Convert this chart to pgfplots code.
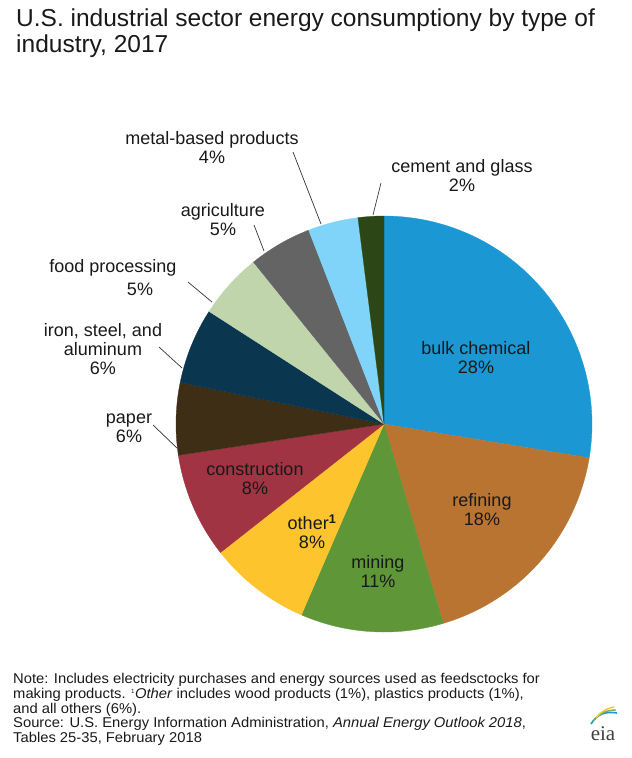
\documentclass[border=0pt]{standalone}
\usepackage{pgfplots}
\pgfplotsset{compat=1.18}
\usepackage{fontspec}
\setmainfont{Liberation Sans}
\newfontfamily\seriffont{Liberation Serif}

\definecolor{cBulk}{HTML}{1B97D4}
\definecolor{cRef}{HTML}{B97432}
\definecolor{cMin}{HTML}{5F9637}
\definecolor{cOth}{HTML}{FDC42E}
\definecolor{cCon}{HTML}{A03442}
\definecolor{cPap}{HTML}{3E2E16}
\definecolor{cIro}{HTML}{0A3650}
\definecolor{cFoo}{HTML}{C0D5AC}
\definecolor{cAgr}{HTML}{646464}
\definecolor{cMet}{HTML}{80D4FA}
\definecolor{cCem}{HTML}{2D4616}

% shares (percent, as drawn), clockwise from 12 o'clock:
% bulk chemical 27.6, refining 17.8, mining 11.1, other 7.9, construction 8.2,
% paper 5.6, iron/steel/aluminum 5.9, food processing 5.1, agriculture 4.9,
% metal-based products 3.9, cement and glass 2.0
\newcommand{\slice}[3]{%
  \addplot[fill=#1, draw=#1, line width=0.3pt, domain=#2:#3, samples=80]
    ({384+208*cos(90-3.6*x)}, {424-208*sin(90-3.6*x)}) -- (axis cs:384,424) -- cycle;
}

\begin{document}
\begin{tikzpicture}
\begin{axis}[width=632pt, height=758pt, scale only axis, hide axis,
  xmin=0, xmax=632, ymin=0, ymax=758, y dir=reverse, clip=false]
\path (axis cs:0,0) rectangle (axis cs:632,758);

\slice{cBulk}{0}{27.6}
\slice{cRef}{27.6}{45.4}
\slice{cMin}{45.4}{56.5}
\slice{cOth}{56.5}{64.4}
\slice{cCon}{64.4}{72.6}
\slice{cPap}{72.6}{78.2}
\slice{cIro}{78.2}{84.1}
\slice{cFoo}{84.1}{89.2}
\slice{cAgr}{89.2}{94.1}
\slice{cMet}{94.1}{98.0}
\slice{cCem}{98.0}{100}

% title
\node[anchor=north west, align=left, font=\fontsize{24.5}{26}\selectfont, text=black!90, inner sep=0pt]
  at (axis cs:16,9) {U.S. industrial sector energy consumptiony by type of\\industry, 2017};

% labels
\tikzset{lab/.style={align=center, font=\fontsize{18}{19}\selectfont, inner sep=0pt, text=black!90}}
\node[lab] at (axis cs:476,358) {bulk chemical\\28\%};
\node[lab] at (axis cs:482,510) {refining\\18\%};
\node[lab] at (axis cs:378,572) {mining\\11\%};
\node[lab] at (axis cs:312,532) {other\textsuperscript{\bfseries 1}\\8\%};
\node[lab] at (axis cs:255,479) {construction\\8\%};
\node[lab] at (axis cs:129,428) {paper\\6\%};
\node[lab] at (axis cs:103,349) {iron, steel, and\\aluminum\\6\%};
\node[lab] at (axis cs:113,268) {food processing};
\node[lab] at (axis cs:140,289) {5\%};
\node[lab] at (axis cs:223,220) {agriculture\\5\%};
\node[lab] at (axis cs:212,148) {metal-based products\\4\%};
\node[lab] at (axis cs:462,176) {cement and glass\\2\%};

% leader lines
\draw[black!80, line width=0.7pt] (axis cs:381,183) -- (axis cs:373,215);
\draw[black!80, line width=0.7pt] (axis cs:293,152) -- (axis cs:321,224);
\draw[black!80, line width=0.7pt] (axis cs:254,225) -- (axis cs:264,251);
\draw[black!80, line width=0.7pt] (axis cs:188,282) -- (axis cs:212,302);
\draw[black!80, line width=0.7pt] (axis cs:159,347) -- (axis cs:182,368);
\draw[black!80, line width=0.7pt] (axis cs:153,425) -- (axis cs:177,448);

% note
\node[anchor=north west, align=left, font=\fontsize{14.2}{14.8}\selectfont, inner sep=0pt, text=black!90, xscale=1.04]
  at (axis cs:13,673) {Note: Includes electricity purchases and energy sources used as feedsctocks for\\
  making products. \textsuperscript{\fontsize{6}{6}\selectfont 1}\textit{Other} includes wood products (1\%), plastics products (1\%),\\
  and all others (6\%).\\
  Source: U.S. Energy Information Administration, \textit{Annual Energy Outlook 2018},\\
  Tables 25-35, February 2018};

% eia logo
\node[font=\seriffont\fontsize{21}{21}\selectfont, inner sep=0pt, text=black!75] at (axis cs:603,734) {eia};
\draw[cBulk, line width=1.6pt] (axis cs:591,724) .. controls (axis cs:597,714) and (axis cs:606,711) .. (axis cs:617,713);
\draw[cMin!80, line width=1.4pt] (axis cs:593,721) .. controls (axis cs:599,713) and (axis cs:607,710) .. (axis cs:616,710);
\draw[cOth, line width=1.4pt] (axis cs:596,718) .. controls (axis cs:601,711) and (axis cs:608,708) .. (axis cs:614,707);
\end{axis}
\end{tikzpicture}
\end{document}
